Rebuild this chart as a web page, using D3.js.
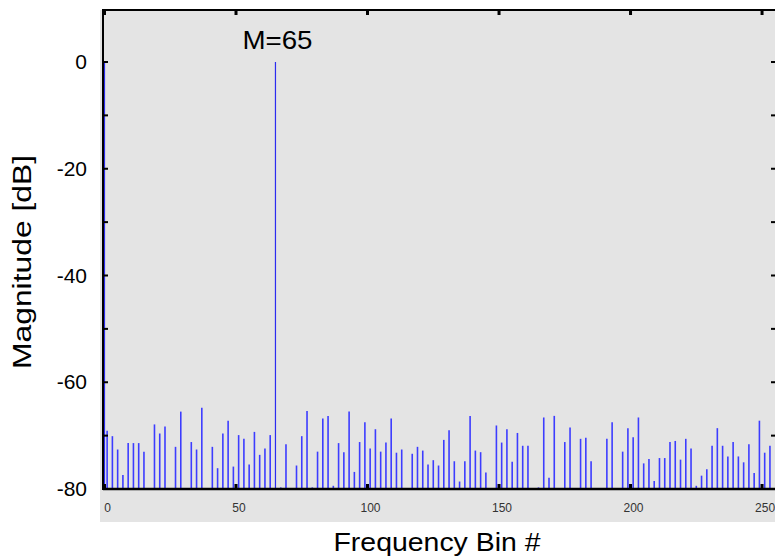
<!DOCTYPE html>
<html>
<head>
<meta charset="utf-8">
<script src="https://cdn.jsdelivr.net/npm/d3@7"></script>
<style>
	body { margin: 0; background: #fff; }
	svg { display: block; font-family: "Liberation Sans", Arial, sans-serif; }
</style>
</head>
<body>
<div id="chart"></div>
<script>
/* odd bins below the -80 dB floor are left out */
const bins = [0, 1, 3, 5, 7, 9, 11, 13, 15, 19, 21, 23, 27, 29, 33, 35, 37, 41, 43, 45, 47, 49,
	51, 53, 55, 57, 59, 61, 63, 65, 67, 69, 73, 75, 77, 79, 81, 83, 85, 87, 89, 91, 93, 95, 97, 99,
	101, 103, 105, 107, 109, 111, 113, 117, 119, 121, 123, 125, 127, 129, 131, 133, 135, 137, 139,
	141, 143, 145, 149, 151, 153, 155, 157, 159, 161, 165, 167, 169, 171, 175, 177, 181, 183, 185,
	191, 193, 197, 199, 201, 203, 205, 207, 209, 211, 213, 215, 217, 219, 221, 223, 225, 227, 229,
	231, 233, 235, 237, 239, 241, 243, 245, 247, 249, 251, 253];

const magnitudes = [0, -69.1, -70.1, -72.6, -77.4, -71.4, -71.4, -71.4, -73.0, -67.9, -69.6, -68.3,
	-72.1, -65.5, -71.2, -72.6, -64.8, -72.1, -76.1, -69.6, -67.2, -75.8,
	-69.9, -70.6, -75.4, -69.3, -73.6, -72.4, -69.9, 0, -79.7, -71.6, -75.6, -70.1, -65.4, -79.7, -73.0, -66.8, -66.3, -79.4, -71.4, -73.1, -65.5, -76.8, -71.2, -67.5,
	-72.4, -68.8, -73.0, -71.3, -66.8, -73.2, -72.6, -73.4, -72.1, -72.8, -75.4, -74.6, -75.6, -70.8, -69.0, -74.8, -78.6, -74.8, -66.3,
	-72.8, -73.1, -76.9, -68.1, -71.3, -68.8, -74.9, -69.5, -71.9, -71.9, -79.7, -66.6, -77.9, -66.3, -71.2, -68.5, -70.6, -70.4, -74.8,
	-70.6, -67.5, -73.0, -68.6, -70.3, -66.6, -75.2, -74.4, -78.5, -74.2, -74.2, -71.2, -71.0, -74.5, -70.6, -72.4, -79.4, -77.5, -76.3,
	-71.9, -68.6, -71.9, -73.9, -71.2, -73.9, -75.0, -71.6, -77.0, -67.2, -73.2, -71.9];

const xTicks = [0, 50, 100, 150, 200, 250];
const yTicks = [0, -10, -20, -30, -40, -50, -60, -70, -80];
const yTickLabels = [0, -20, -40, -60, -80];
const peakLabel = "M=65";
const peakBin = 65;

const width = 775, height = 558;
const floor = -80;

const svg = d3.select("#chart")
	.append("svg")
	.attr("width", width)
	.attr("height", height);

const x = d3.scaleLinear().domain([0, 255]).range([104.5, 775.2]);
const y = d3.scaleLinear().domain([-80, 0]).range([489, 62]);

const frame = { left: 103, top: 10, right: 776, bottom: 489 };

/* gray panel, reaches below the axis to hold the small tick labels */
svg.append("rect")
	.attr("x", 100)
	.attr("y", frame.top)
	.attr("width", width - 100)
	.attr("height", 522 - frame.top)
	.attr("fill", "#e4e4e4");

/* stems */
const data = bins.map((b, i) => ({ bin: b, value: magnitudes[i] }));

svg.append("g")
	.attr("class", "stems")
	.selectAll("line")
	.data(data)
	.enter()
	.append("line")
		.attr("x1", (d) => x(d.bin))
		.attr("x2", (d) => x(d.bin))
		.attr("y1", y(floor))
		.attr("y2", (d) => y(d.value))
		.attr("stroke", (d) => d.value > -60 ? "#2c2cf0" : "#3c3cff")
		.attr("stroke-width", (d) => d.value > -60 ? 1.2 : 1.6);

/* frame */
const axes = svg.append("g").attr("class", "frame");
axes.append("line")
	.attr("x1", frame.left).attr("x2", frame.right)
	.attr("y1", frame.top).attr("y2", frame.top)
	.attr("stroke", "#000").attr("stroke-width", 2);
axes.append("line")
	.attr("x1", frame.left).attr("x2", frame.left)
	.attr("y1", frame.top - 1).attr("y2", frame.bottom + 1)
	.attr("stroke", "#000").attr("stroke-width", 2);
axes.append("line")
	.attr("x1", frame.left).attr("x2", frame.right)
	.attr("y1", frame.bottom).attr("y2", frame.bottom)
	.attr("stroke", "#000").attr("stroke-width", 2.5);
axes.append("line")
	.attr("x1", frame.right).attr("x2", frame.right)
	.attr("y1", frame.top).attr("y2", frame.bottom)
	.attr("stroke", "#000").attr("stroke-width", 2);

/* inward ticks on all four sides */
const tickLen = 5;
axes.selectAll(".xtick-b")
	.data(xTicks)
	.enter()
	.append("line")
		.attr("x1", (d) => x(d)).attr("x2", (d) => x(d))
		.attr("y1", frame.bottom).attr("y2", frame.bottom - tickLen)
		.attr("stroke", "#000").attr("stroke-width", 3);
axes.selectAll(".xtick-t")
	.data(xTicks)
	.enter()
	.append("line")
		.attr("x1", (d) => x(d)).attr("x2", (d) => x(d))
		.attr("y1", frame.top).attr("y2", frame.top + tickLen)
		.attr("stroke", "#000").attr("stroke-width", 3);
axes.selectAll(".ytick-l")
	.data(yTicks)
	.enter()
	.append("line")
		.attr("x1", frame.left).attr("x2", frame.left + tickLen)
		.attr("y1", (d) => y(d)).attr("y2", (d) => y(d))
		.attr("stroke", "#000").attr("stroke-width", 2);
axes.selectAll(".ytick-r")
	.data(yTicks)
	.enter()
	.append("line")
		.attr("x1", frame.right).attr("x2", frame.right - tickLen)
		.attr("y1", (d) => y(d)).attr("y2", (d) => y(d))
		.attr("stroke", "#000").attr("stroke-width", 2);

/* tick labels */
svg.append("g")
	.selectAll("text")
	.data(xTicks)
	.enter()
	.append("text")
		.attr("x", (d) => x(d) + 3)
		.attr("y", 512)
		.attr("text-anchor", "middle")
		.attr("font-size", "12px")
		.attr("fill", "#333")
		.text((d) => d);

svg.append("g")
	.selectAll("text")
	.data(yTickLabels)
	.enter()
	.append("text")
		.attr("x", 87)
		.attr("y", (d) => y(d) + 7)
		.attr("text-anchor", "end")
		.attr("font-size", "21px")
		.attr("fill", "#000")
		.text((d) => d);

/* titles, stretched a little like the original raster */
svg.append("text")
	.attr("x", 437)
	.attr("y", 551)
	.attr("text-anchor", "middle")
	.attr("font-size", "26px")
	.attr("textLength", 207)
	.attr("lengthAdjust", "spacingAndGlyphs")
	.text("Frequency Bin #");

svg.append("text")
	.attr("transform", "translate(31,262) rotate(-90)")
	.attr("text-anchor", "middle")
	.attr("font-size", "26px")
	.attr("textLength", 214)
	.attr("lengthAdjust", "spacingAndGlyphs")
	.text("Magnitude [dB]");

svg.append("text")
	.attr("x", x(peakBin) + 2)
	.attr("y", 49)
	.attr("text-anchor", "middle")
	.attr("font-size", "26px")
	.attr("textLength", 70)
	.attr("lengthAdjust", "spacingAndGlyphs")
	.text(peakLabel);
</script>
</body>
</html>
